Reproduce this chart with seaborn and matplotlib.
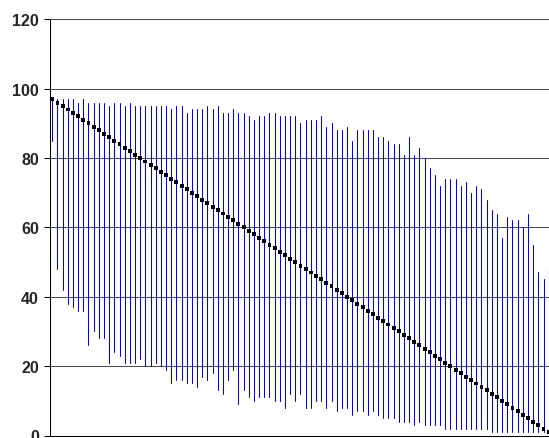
import matplotlib
matplotlib.use("Agg")
import matplotlib.pyplot as plt
import numpy as np
import pandas as pd
import seaborn as sns

# Item number for every range bar (1..97)
items = list(range(1, 98))

# Upper end of each range bar
highs = [97, 97, 97, 97, 97, 96, 97, 96, 96, 96,
         96, 95, 96, 96, 95, 96, 95, 95, 95, 95,
         95, 95, 95, 94, 95, 95, 93, 94, 94, 94,
         95, 94, 95, 93, 93, 94, 93, 93, 92, 91,
         92, 92, 93, 93, 92, 92, 92, 92, 90, 91,
         91, 91, 92, 89, 90, 88, 88, 89, 85, 88,
         88, 88, 88, 86, 86, 85, 84, 84, 81, 86,
         81, 83, 80, 77, 75, 72, 74, 74, 74, 72,
         73, 70, 72, 71, 68, 65, 64, 57, 63, 62,
         62, 60, 64, 55, 47, 45, 48]

# Lower end of each range bar
lows = [85, 48, 42, 38, 37, 36, 36, 26, 30, 28,
        28, 21, 24, 23, 21, 21, 21, 22, 20, 20,
        21, 20, 19, 15, 16, 16, 15, 15, 14, 17,
        16, 18, 13, 12, 16, 19, 9, 13, 11, 10,
        11, 11, 11, 10, 10, 8, 12, 10, 12, 8,
        8, 10, 10, 8, 10, 7, 8, 8, 6, 7,
        7, 6, 7, 6, 5, 5, 5, 4, 4, 4,
        3, 4, 3, 3, 3, 3, 2, 2, 2, 2,
        2, 2, 2, 2, 2, 1, 1, 1, 1, 1,
        1, 1, 1, 1, 1, 1, 1]

# Reference value drawn as a dotted diagonal
marks = [97, 96, 95, 94, 93, 92, 91, 90, 89, 88,
         87, 86, 85, 84, 83, 82, 81, 80, 79, 78,
         77, 76, 75, 74, 73, 72, 71, 70, 69, 68,
         67, 66, 65, 64, 63, 62, 61, 60, 59, 58,
         57, 56, 55, 54, 53, 52, 51, 50, 49, 48,
         47, 46, 45, 44, 43, 42, 41, 40, 39, 38,
         37, 36, 35, 34, 33, 32, 31, 30, 29, 28,
         27, 26, 25, 24, 23, 22, 21, 20, 19, 18,
         17, 16, 15, 14, 13, 12, 11, 10, 9, 8,
         7, 6, 5, 4, 3, 2, 1]

y_ticks = [0, 20, 40, 60, 80, 100, 120]

sns.set_style("white")
plt.rcParams["font.family"] = ["Liberation Sans", "DejaVu Sans"]

# Long-form table: one low row and one high row per bar
bars = pd.DataFrame({
    "item": items + items,
    "value": lows + highs,
})
dots = pd.DataFrame({"item": items, "value": marks})

fig = plt.figure(figsize=(5.49, 4.39), dpi=100)
ax = fig.add_axes([50 / 549, 2.5 / 439, 1 - 50 / 549, 416.2 / 439])

sns.lineplot(data=bars, x="item", y="value", units="item", estimator=None,
             sort=False, color="#0000ff", linewidth=0.75, ax=ax, zorder=2)
sns.scatterplot(data=dots, x="item", y="value", marker="s", s=8,
                color="black", edgecolor="none", linewidth=0, ax=ax, zorder=3)

ax.set_xlim(0.555, 97.06)
ax.set_ylim(0, 120)
ax.set_yticks(y_ticks)
ax.set_yticklabels([str(t) for t in y_ticks], fontsize=11.5, fontweight="bold")
ax.set_xticks([])
ax.set_xlabel("")
ax.set_ylabel("")

ax.yaxis.grid(True, color="#4d4d4d", linewidth=0.75, zorder=0)
ax.set_axisbelow(True)
ax.tick_params(axis="y", left=True, direction="out", length=4, width=0.75,
               color="black", pad=4)

ax.spines["right"].set_visible(False)
ax.spines["top"].set_color("#4d4d4d")
ax.spines["top"].set_linewidth(0.75)
ax.spines["left"].set_color("black")
ax.spines["left"].set_linewidth(0.75)
ax.spines["bottom"].set_color("black")
ax.spines["bottom"].set_linewidth(0.75)

fig.savefig("out.png", dpi=100)
